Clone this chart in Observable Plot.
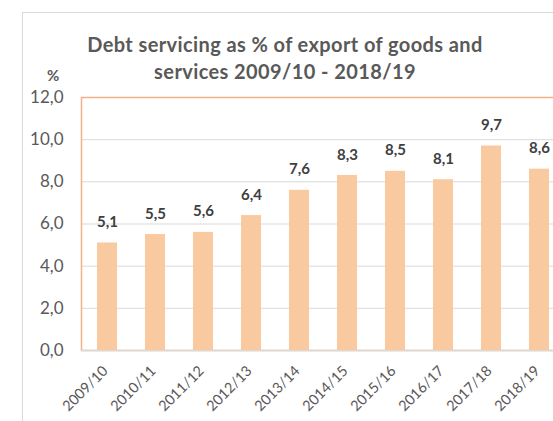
<!DOCTYPE html>
<html>
<head>
<meta charset="utf-8">
<script src="https://cdn.jsdelivr.net/npm/d3@7"></script>
<script src="https://cdn.jsdelivr.net/npm/@observablehq/plot@0.6"></script>
<style>
  html, body { margin: 0; padding: 0; background: #fff; overflow: hidden; }
  #wrap { position: relative; width: 553px; height: 421px; overflow: hidden; font-family: Lato, "Open Sans", sans-serif; }
  #border { position: absolute; left: 22px; top: 12px; width: 700px; height: 600px; border: 1px solid #d9d9d9; box-sizing: border-box; }
  #title { position: absolute; left: 60px; width: 450px; top: 31px; text-align: center; font-size: 20px; font-weight: bold; color: #595959; line-height: 27px; letter-spacing: 0.4px; }
  #unit { position: absolute; left: 47px; top: 66px; font-size: 15px; font-weight: bold; color: #595959; }
  #chart { position: absolute; left: 0; top: 0; }
  #chart svg { max-width: none !important; }
</style>
</head>
<body>
<div id="wrap">
  <div id="border"></div>
  <div id="chart"></div>
  <div id="title">Debt servicing as % of export of goods and<br>services 2009/10 - 2018/19</div>
  <div id="unit">%</div>
</div>
<script>
const periods = ["2009/10","2010/11","2011/12","2012/13","2013/14","2014/15","2015/16","2016/17","2017/18","2018/19"];
const values = [5.1, 5.5, 5.6, 6.4, 7.6, 8.3, 8.5, 8.1, 9.7, 8.6];
const yTicks = [0, 2, 4, 6, 8, 10, 12];

const data = periods.map((p, i) => ({period: p, value: values[i]}));
const fmt = d => d.toFixed(1).replace(".", ",");

const chart = Plot.plot({
  width: 564,
  height: 421,
  marginLeft: 81,
  marginRight: 0,
  marginTop: 97,
  marginBottom: 71,
  style: {fontFamily: "Lato, 'Open Sans', sans-serif", background: "transparent", overflow: "visible", maxWidth: "none"},
  x: {domain: periods, paddingInner: 0.586, paddingOuter: 0.293, label: null},
  y: {domain: [0, 12], label: null},
  marks: [
    Plot.gridY(yTicks, {stroke: "#d9d9d9", strokeOpacity: 1}),
    Plot.frame({stroke: "#f4b183", strokeWidth: 1.5}),
    Plot.ruleY([0], {stroke: "#d9d9d9", strokeWidth: 1.5}),
    Plot.barY(data, {x: "period", y: "value", fill: "#f9caa0"}),
    Plot.text(data, {x: "period", y: "value", text: d => fmt(d.value), lineAnchor: "bottom", dy: -16, fontSize: 15, fontWeight: "bold", fill: "#404040"}),
    Plot.axisY({ticks: yTicks, tickFormat: fmt, tickSize: 0, tickPadding: 18, fontSize: 17, fill: "#595959", label: null}),
    Plot.axisX({tickSize: 0, tickRotate: -45, tickPadding: 18, dx: -2, fontSize: 14.5, fill: "#595959", label: null})
  ]
});
document.getElementById("chart").appendChild(chart);
</script>
</body>
</html>
